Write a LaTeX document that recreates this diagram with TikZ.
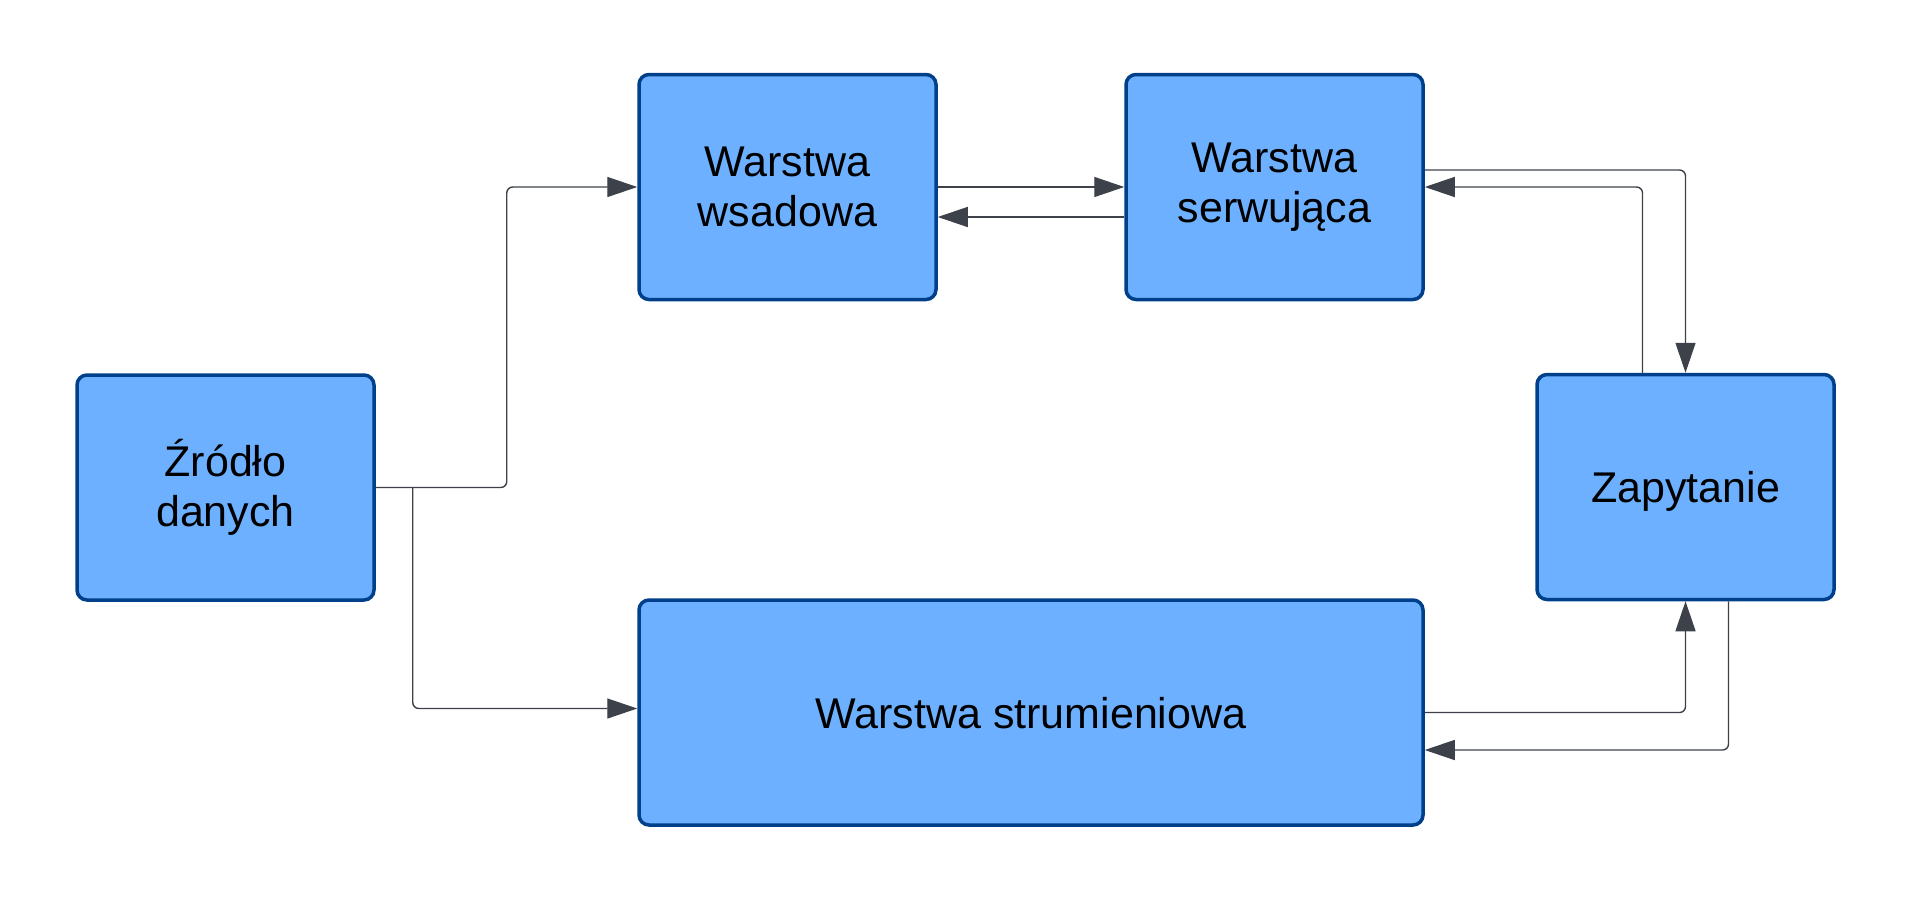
\documentclass[tikz,border=0pt]{standalone}
\usepackage{fontspec}
\setmainfont{Liberation Sans}
\usetikzlibrary{arrows.meta}
\definecolor{boxfill}{HTML}{6CB0FF}
\definecolor{boxborder}{HTML}{00408A}
\definecolor{linecol}{HTML}{3D424A}
\begin{document}
\begin{tikzpicture}[x=1pt,y=-1pt,
  box/.style={draw=boxborder, fill=boxfill, line width=3.5pt, rounded corners=10pt,
    align=center, inner sep=0pt, minimum width=297pt, minimum height=225pt,
    font=\fontsize{43}{50}\selectfont},
  conn/.style={draw=linecol, line width=1.4pt, rounded corners=6pt,
    -{Triangle[length=30pt,width=20pt]}}]
\useasboundingbox (0,0) rectangle (1913,900);

\node[box] (zrodlo) at (225.5,487.5) {Źródło\\danych};
\node[box] (wsad) at (787.5,187) {Warstwa\\wsadowa};
\node[box] (serw) at (1274.5,187) {Warstwa\\serwująca};
\node[box, text depth=0pt] (zap) at (1685.5,487) {Zapytanie};
\node[box, text depth=0pt, minimum width=784pt] (strum) at (1031,712.5) {Warstwa strumieniowa};

\coordinate (split) at ([xshift=37pt]zrodlo.east);

\draw[conn] (zrodlo.east) -- ++(131,0) |- (wsad.west);
\draw[conn] (split) |- ([yshift=4pt]strum.west);
\draw[conn] (wsad.east) -- (serw.west);
\draw[conn] ([yshift=-30pt]serw.west) -- ([yshift=-30pt]wsad.east);
\draw[conn] ([yshift=17pt]serw.east) -| (zap.north);
\draw[conn] ([xshift=-43pt]zap.north) |- (serw.east);
\draw[conn] (strum.east) -| (zap.south);
\draw[conn] ([xshift=43pt]zap.south) |- ([yshift=-37.5pt]strum.east);
\end{tikzpicture}
\end{document}
